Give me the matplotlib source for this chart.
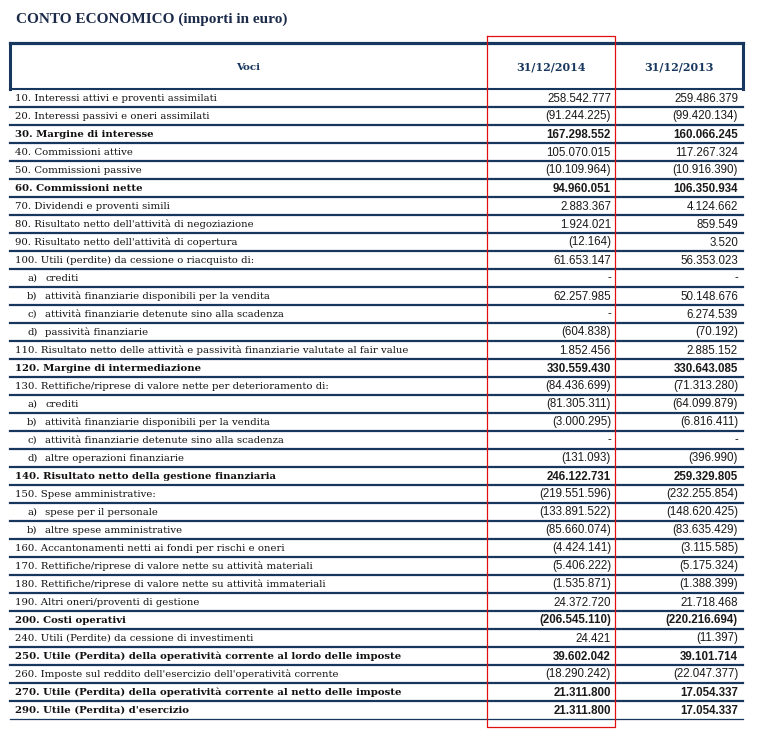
import matplotlib
matplotlib.use('Agg')
import matplotlib.pyplot as plt

title = 'CONTO ECONOMICO (importi in euro)'
col_headers = ['Voci', '31/12/2014', '31/12/2013']

codes = ['10.', '20.', '30.', '40.', '50.', '60.', '70.', '80.', '90.', '100.',
         'a)', 'b)', 'c)', 'd)', '110.', '120.', '130.', 'a)', 'b)', 'c)', 'd)',
         '140.', '150.', 'a)', 'b)', '160.', '170.', '180.', '190.', '200.',
         '240.', '250.', '260.', '270.', '290.']
labels = [
    'Interessi attivi e proventi assimilati',
    'Interessi passivi e oneri assimilati',
    'Margine di interesse',
    'Commissioni attive',
    'Commissioni passive',
    'Commissioni nette',
    'Dividendi e proventi simili',
    "Risultato netto dell'attività di negoziazione",
    "Risultato netto dell'attività di copertura",
    'Utili (perdite) da cessione o riacquisto di:',
    'crediti',
    'attività finanziarie disponibili per la vendita',
    'attività finanziarie detenute sino alla scadenza',
    'passività finanziarie',
    'Risultato netto delle attività e passività finanziarie valutate al fair value',
    'Margine di intermediazione',
    'Rettifiche/riprese di valore nette per deterioramento di:',
    'crediti',
    'attività finanziarie disponibili per la vendita',
    'attività finanziarie detenute sino alla scadenza',
    'altre operazioni finanziarie',
    'Risultato netto della gestione finanziaria',
    'Spese amministrative:',
    'spese per il personale',
    'altre spese amministrative',
    'Accantonamenti netti ai fondi per rischi e oneri',
    'Rettifiche/riprese di valore nette su attività materiali',
    'Rettifiche/riprese di valore nette su attività immateriali',
    'Altri oneri/proventi di gestione',
    'Costi operativi',
    'Utili (Perdite) da cessione di investimenti',
    'Utile (Perdita) della operatività corrente al lordo delle imposte',
    "Imposte sul reddito dell'esercizio dell'operatività corrente",
    'Utile (Perdita) della operatività corrente al netto delle imposte',
    "Utile (Perdita) d'esercizio",
]
v2014 = [258542777, -91244225, 167298552, 105070015, -10109964, 94960051,
         2883367, 1924021, -12164, 61653147, None, 62257985, None, -604838,
         1852456, 330559430, -84436699, -81305311, -3000295, None, -131093,
         246122731, -219551596, -133891522, -85660074, -4424141, -5406222,
         -1535871, 24372720, -206545110, 24421, 39602042, -18290242,
         21311800, 21311800]
v2013 = [259486379, -99420134, 160066245, 117267324, -10916390, 106350934,
         4124662, 859549, 3520, 56353023, None, 50148676, 6274539, -70192,
         2885152, 330643085, -71313280, -64099879, -6816411, None, -396990,
         259329805, -232255854, -148620425, -83635429, -3115585, -5175324,
         -1388399, 21718468, -220216694, -11397, 39101714, -22047377,
         17054337, 17054337]
bold_codes = ['30.', '60.', '120.', '140.', '200.', '250.', '270.', '290.']


def fmt(v):
    if v is None:
        return '-'
    s = '{:,}'.format(abs(v)).replace(',', '.')
    return '(' + s + ')' if v < 0 else s


navy = '#17375e'
red = '#e01010'
serif = ['DejaVu Serif']
sans = ['Liberation Sans', 'DejaVu Sans']

fig = plt.figure(figsize=(7.73, 7.38), dpi=100)
ax = fig.add_axes([0, 0, 1, 1])
ax.set_xlim(0, 773)
ax.set_ylim(738, 0)
ax.axis('off')

left, right = 10, 743
c1, c2 = 487, 615
head_top, head_bot = 43, 89
row_h = 18

ax.text(16, 19, title, fontsize=11, fontweight='bold', family=['Liberation Serif'],
        color='#1c2b4a', va='center', ha='left')

# header box
ax.plot([left, right], [head_top, head_top], color=navy, lw=2.3, solid_capstyle='projecting')
ax.plot([left, left], [head_top, head_bot], color=navy, lw=2.2)
ax.plot([right, right], [head_top, head_bot], color=navy, lw=2.2)
ax.text((left + c1) / 2, 67, col_headers[0], fontsize=7.5, fontweight='bold',
        family=serif, color=navy, ha='center', va='center')
ax.text((c1 + c2) / 2, 67, col_headers[1], fontsize=8, fontweight='bold',
        family=serif, color=navy, ha='center', va='center')
ax.text((c2 + right) / 2, 67, col_headers[2], fontsize=8, fontweight='bold',
        family=serif, color=navy, ha='center', va='center')
ax.plot([left, right], [head_bot, head_bot], color=navy, lw=1.5)

n = len(labels)
for i in range(n):
    top = head_bot + i * row_h
    yc = top + row_h / 2 + 0.5
    bold = codes[i] in bold_codes
    fw = 'bold' if bold else 'normal'
    if codes[i].endswith(')'):
        ax.text(27, yc, codes[i], fontsize=7.3, family=serif, ha='left', va='center', color='#111111')
        ax.text(45, yc, labels[i], fontsize=7.3, family=serif, ha='left', va='center', color='#111111')
    else:
        ax.text(15, yc, codes[i] + ' ' + labels[i], fontsize=7.3, family=serif,
                fontweight=fw, ha='left', va='center', color='#111111')
    ax.text(611, yc, fmt(v2014[i]), fontsize=8.3, family=sans, fontweight=fw,
            ha='right', va='center', color='#1a1a1a')
    ax.text(738, yc, fmt(v2013[i]), fontsize=8.3, family=sans, fontweight=fw,
            ha='right', va='center', color='#1a1a1a')
    lw = 1.6 if i < n - 1 else 0.9
    ax.plot([left, right], [top + row_h, top + row_h], color=navy, lw=lw)

bottom = head_bot + n * row_h
# red highlight box around 2014 column
ax.plot([c1, c2, c2, c1, c1], [36, 36, bottom + 8, bottom + 8, 36], color=red, lw=0.9)

fig.savefig('out.png', dpi=100, facecolor='white')
